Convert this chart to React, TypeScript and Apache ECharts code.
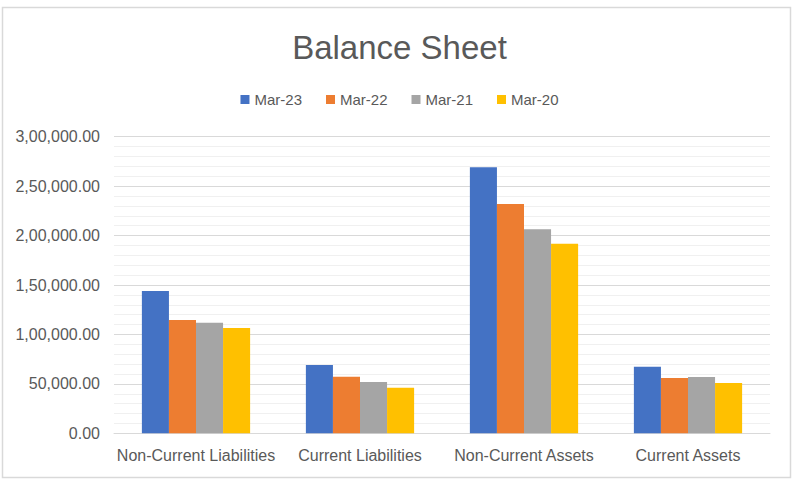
import React, { useEffect, useRef } from "react";
import * as echarts from "echarts";

const categories = ["Non-Current Liabilities", "Current Liabilities", "Non-Current Assets", "Current Assets"];
const seriesNames = ["Mar-23", "Mar-22", "Mar-21", "Mar-20"];
const mar23 = [143900, 69100, 269100, 67400];
const mar22 = [114600, 57300, 231900, 55900];
const mar21 = [111900, 51900, 206300, 56900];
const mar20 = [106500, 46100, 191800, 50900];
const colors = ["#4472C4", "#ED7D31", "#A5A5A5", "#FFC000"];

function inr(v: number): string {
  const s = Math.round(v).toString();
  const last3 = s.slice(-3);
  let rest = s.slice(0, -3);
  if (rest) {
    rest = rest.replace(/\B(?=(\d{2})+(?!\d))/g, ",");
    return rest + "," + last3 + ".00";
  }
  return last3 + ".00";
}

export default function App() {
  const ref = useRef<HTMLDivElement>(null);
  useEffect(() => {
    if (!ref.current) return;
    const chart = echarts.init(ref.current, null, { renderer: "svg" });
    const data = [mar23, mar22, mar21, mar20];
    const font = "'Liberation Sans', Arial, sans-serif";
    chart.setOption({
      animation: false,
      backgroundColor: "#ffffff",
      title: {
        text: "Balance Sheet",
        left: "center",
        top: 26,
        textStyle: { fontFamily: font, fontSize: 33, fontWeight: "normal", color: "#595959" },
      },
      legend: {
        data: seriesNames,
        left: "center",
        top: 87,
        itemWidth: 9,
        itemHeight: 9,
        itemGap: 24,
        icon: "rect",
        textStyle: { fontFamily: font, fontSize: 15, color: "#595959" },
      },
      grid: { left: 114, right: 29, top: 136.7, bottom: 50.7 },
      xAxis: {
        type: "category",
        data: categories,
        axisTick: { show: false },
        axisLine: { lineStyle: { color: "#d9d9d9", width: 1 } },
        axisLabel: { interval: 0, fontFamily: font, fontSize: 16, color: "#595959", margin: 14 },
      },
      yAxis: {
        type: "value",
        min: 0,
        max: 300000,
        interval: 50000,
        axisLine: { show: false },
        axisTick: { show: false },
        axisLabel: { fontFamily: font, fontSize: 16, color: "#595959", margin: 14, formatter: (v: number) => inr(v) },
        splitLine: { lineStyle: { color: "#d9d9d9", width: 1 } },
        minorTick: { show: false, splitNumber: 5 },
        minorSplitLine: { show: true, lineStyle: { color: "#f0f0f0", width: 1 } },
      },
      graphic: [
        {
          type: "rect",
          shape: { x: 2.5, y: 7.5, width: 788, height: 470 },
          style: { fill: "none", stroke: "#d9d9d9", lineWidth: 1.5 },
          silent: true,
        },
      ],
      series: seriesNames.map((name, i) => ({
        name,
        type: "bar",
        data: data[i],
        barGap: "0%",
        barCategoryGap: "34%",
        itemStyle: { color: colors[i] },
      })),
    });
    return () => chart.dispose();
  }, []);
  return <div ref={ref} style={{ position: "absolute", left: 0, top: 0, width: 799, height: 484 }} />;
}
